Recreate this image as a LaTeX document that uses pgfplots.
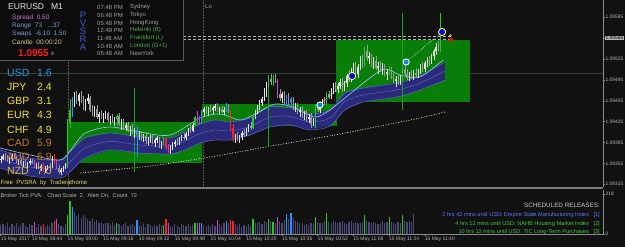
\documentclass[border=0pt]{standalone}
\usepackage{pgfplots}
\pgfplotsset{compat=1.18}
\usepackage{pgfplotstable}
\usepackage{graphicx}
\usepackage{fontspec}
\setmainfont{Liberation Sans}
\newcommand{\fs}[1]{\fontsize{#1}{#1}\selectfont}

\definecolor{bg}{HTML}{111111}
\definecolor{panelbg}{HTML}{0C0C0C}
\definecolor{panelln}{HTML}{5A5A5A}
\definecolor{axgrey}{HTML}{8C8C8C}
\definecolor{labgrey}{HTML}{B4B4B4}
\definecolor{boxgreen}{HTML}{087E08}
\definecolor{bandblue}{HTML}{2A2A7A}
\definecolor{bandline}{HTML}{6262C4}
\definecolor{fastline}{HTML}{9CC2FF}
\definecolor{cbull}{HTML}{E4E4E4}
\definecolor{cbear}{HTML}{9A9A9A}
\definecolor{cgreen}{HTML}{22CC22}
\definecolor{cred}{HTML}{FF2222}
\definecolor{cblue}{HTML}{3090FF}
\definecolor{cmag}{HTML}{C048C8}
\definecolor{volgrey}{HTML}{4A4A78}
\definecolor{hlgreen}{HTML}{274A27}
\definecolor{vlgreen}{HTML}{14A514}
\definecolor{sepgrey}{HTML}{7A7A7A}
\definecolor{cur1}{HTML}{3A90EA}
\definecolor{cur2}{HTML}{F0E040}
\definecolor{cur3}{HTML}{C47A28}
\definecolor{cur4}{HTML}{E2B840}
\definecolor{spreadc}{HTML}{C878C8}
\definecolor{infob}{HTML}{7AA0D0}
\definecolor{candc}{HTML}{D8C890}
\definecolor{pvsra}{HTML}{4858D8}
\definecolor{sessg}{HTML}{A0A0A0}
\definecolor{sessgr}{HTML}{48B048}
\definecolor{relblue}{HTML}{5A78FF}
\definecolor{relgreen}{HTML}{40C840}
\definecolor{freey}{HTML}{E0D870}

% i = minutes after 08:44 ; prices in 1e-5 above 1.09000 ; k = PVSRA class ; v = tick volume
\pgfplotstableread{
i o h l c k v
-14 356 362 350 358 0 48
-13 358 366 355 362 0 55
-12 362 368 356 359 1 42
-11 359 364 352 354 1 60
-10 354 360 349 357 0 38
-9 357 365 354 363 0 52
-8 363 367 357 360 1 45
-7 360 363 350 352 1 58
-6 352 358 348 355 0 40
-5 355 359 346 349 1 50
-4 349 354 344 351 0 62
-3 351 356 345 347 1 44
-2 347 352 342 350 0 36
-1 350 357 347 354 0 55
0 354 358 349 351 1 48
1 351 355 343 345 5 67
2 345 350 340 348 0 40
3 348 352 341 343 1 52
4 343 349 338 346 0 46
5 346 350 336 338 3 55
6 338 345 334 342 0 38
7 342 348 339 346 0 50
8 346 351 341 344 1 44
9 344 362 343 360 0 58
10 360 365 349 351 3 72
11 351 355 340 343 5 80
12 343 348 333 336 1 52
13 336 342 330 339 0 46
14 339 346 335 344 0 40
15 344 350 340 347 0 55
16 347 425 342 418 2 103
17 418 458 410 440 2 181
18 440 462 428 452 4 149
19 452 470 445 462 0 120
20 462 472 450 455 1 96
21 455 468 447 465 0 110
22 465 471 452 456 1 88
23 456 463 440 444 1 104
24 444 458 438 454 0 92
25 454 466 450 460 0 80
26 460 463 436 440 1 70
27 440 448 430 437 1 85
28 437 446 428 442 0 66
29 442 448 425 428 1 74
30 428 436 418 432 0 60
31 432 440 424 427 1 68
32 427 434 418 430 0 55
33 430 438 425 434 0 62
34 434 437 419 422 1 58
35 422 430 415 426 0 50
36 426 432 417 420 1 64
37 420 428 412 424 0 48
38 424 432 413 430 2 62
39 430 434 413 416 1 55
40 416 424 406 421 0 46
41 421 424 406 409 1 52
42 409 418 404 414 0 60
43 414 420 402 405 1 44
44 405 413 396 410 0 50
45 410 416 400 403 1 56
46 403 410 392 406 0 42
47 406 412 360 398 4 76
48 398 405 390 400 0 50
49 400 404 388 392 1 45
50 392 400 386 396 0 58
51 396 402 383 387 1 40
52 387 395 380 391 0 52
53 391 398 385 394 0 47
54 394 399 382 385 1 36
55 385 392 378 389 0 50
56 389 396 384 392 0 42
57 392 394 376 380 1 55
58 380 388 374 384 0 44
59 384 395 380 392 2 49
60 392 393 372 375 3 80
61 375 382 368 371 5 62
62 371 380 366 377 0 46
63 377 386 372 383 0 38
64 383 390 378 386 0 52
65 386 392 380 383 1 44
66 383 394 381 391 0 40
67 391 398 387 395 0 56
68 395 401 389 392 1 48
69 392 403 390 400 0 42
70 400 410 396 407 0 53
71 407 414 401 404 1 45
72 404 418 402 415 0 50
73 415 430 412 427 2 60
74 427 438 418 421 5 58
75 421 430 414 418 5 60
76 418 440 416 436 4 62
77 436 445 430 441 0 48
78 441 446 433 436 1 44
79 436 444 430 442 0 50
80 442 448 436 439 1 40
81 439 446 432 443 0 55
82 443 450 438 446 0 46
83 446 452 436 438 5 76
84 438 445 432 441 0 52
85 441 447 434 436 1 42
86 436 444 431 440 0 58
87 440 452 437 448 4 71
88 448 450 434 437 1 60
89 437 440 405 410 3 76
90 410 416 386 392 3 71
91 392 400 385 397 0 55
92 397 402 388 391 1 44
93 391 398 384 395 0 52
94 395 404 390 401 0 40
95 401 408 395 398 1 48
96 398 410 396 407 0 42
97 407 416 402 413 0 56
98 413 420 406 410 1 46
99 410 432 408 428 2 80
100 428 440 424 436 0 62
101 436 448 432 444 0 58
102 444 456 440 452 0 66
103 452 462 446 458 0 55
104 458 476 454 470 0 70
105 470 486 462 480 0 64
106 480 498 476 492 2 80
107 492 500 482 486 1 72
108 486 498 480 494 2 67
109 494 500 484 488 1 60
110 488 492 460 466 5 92
111 466 474 455 460 1 70
112 460 470 452 466 0 62
113 466 472 450 454 1 78
114 454 464 446 460 4 109
115 460 468 448 452 1 84
116 452 462 444 458 4 116
117 458 462 440 445 1 88
118 445 452 436 448 0 72
119 448 452 432 436 1 66
120 436 444 428 440 0 58
121 440 446 426 430 1 62
122 430 438 422 434 0 50
123 434 440 420 424 1 56
124 424 432 418 428 0 48
125 428 434 410 416 1 60
126 416 426 412 422 0 54
127 422 450 410 444 2 92
128 444 452 436 440 1 66
129 440 452 434 448 0 58
130 448 458 444 454 0 62
131 454 462 448 450 1 70
132 450 470 448 466 2 114
133 466 472 458 462 1 68
134 462 476 458 472 0 60
135 472 484 466 480 0 72
136 480 486 470 474 1 64
137 474 484 468 480 0 58
138 480 492 474 486 0 66
139 486 494 470 476 1 70
140 476 488 472 484 0 62
141 484 500 478 496 0 56
142 496 506 486 490 1 64
143 490 510 486 504 0 70
144 504 518 498 512 0 60
145 512 520 496 500 1 66
146 500 516 494 512 0 58
147 512 530 506 524 0 62
148 524 532 510 516 1 68
149 516 545 512 538 2 103
150 538 548 522 526 1 72
151 526 536 516 530 0 64
152 530 534 512 516 1 58
153 516 528 508 522 0 66
154 522 530 506 510 1 60
155 510 520 500 514 0 54
156 514 522 504 508 1 62
157 508 518 498 512 0 70
158 512 516 496 500 1 58
159 500 508 490 504 0 64
160 504 514 498 510 2 94
161 510 512 492 495 1 68
162 495 502 484 488 1 60
163 488 496 478 492 0 56
164 492 500 482 486 1 66
165 486 498 482 494 0 62
166 494 512 490 508 2 103
167 508 516 496 500 1 70
168 500 508 490 494 1 64
169 494 504 488 500 0 72
170 500 506 492 496 1 66
171 496 506 490 502 0 109
172 502 510 494 498 1 0
173 498 508 494 506 0 0
174 506 516 500 512 0 0
175 512 520 504 508 1 0
176 508 522 504 518 0 0
177 518 528 512 524 0 0
178 524 530 514 518 1 0
179 518 534 516 530 0 0
180 530 542 524 538 0 0
181 538 552 532 546 0 0
182 546 556 538 542 1 0
183 542 602 536 560 2 0
}\candles

\newcommand{\candleset}[2]{%
 \addplot[draw=none, mark=none, forget plot,
   restrict expr to domain={\thisrow{k}}{#1},
   error bars/.cd, y dir=plus, y explicit, error mark=none,
   error bar style={draw=#2, line width=0.45pt, solid}]
   table[x=i, y=l, y error expr=\thisrow{h}-\thisrow{l}]{\candles};
 \addplot[draw=none, mark=none, forget plot,
   restrict expr to domain={\thisrow{k}}{#1},
   error bars/.cd, y dir=plus, y explicit, error mark=none,
   error bar style={draw=#2, line width=1.15pt, solid}]
   table[x=i, y expr={min(\thisrow{o},\thisrow{c})}, y error expr={max(abs(\thisrow{c}-\thisrow{o}),1.2)}]{\candles};
}
\newcommand{\volset}[2]{%
 \addplot[ycomb, draw=#2, line width=1.2pt, forget plot,
   restrict expr to domain={\thisrow{k}}{#1}]
   table[x=i, y=v]{\candles};
}

\begin{document}
\begin{tikzpicture}[x=1pt,y=1pt]
\fill[bg] (0,0) rectangle (625,247);

% ---------------- main price panel ----------------
\begin{axis}[at={(0pt,60pt)}, anchor=south west, scale only axis,
  width=603pt, height=187pt,
  xmin=-14.34, xmax=255.8, ymin=310.4, ymax=624,
  axis x line=none, axis y line*=right,
  y axis line style={draw=axgrey, line width=0.6pt, -},
  ytick={315,350,385,420,455,490,525,595},
  yticklabels={1.09315,1.09350,1.09385,1.09420,1.09455,1.09490,1.09525,1.09595},
  extra y ticks={560}, extra y tick labels={1.09560},
  extra y tick style={yticklabel style={fill=labgrey, text=black}},
  tick align=outside, major tick length=2pt,
  ytick style={draw=axgrey, line width=0.5pt},
  yticklabel style={font=\fs{4.9}, text=labgrey, inner sep=0.4pt, xshift=0pt},
  xtick=\empty]
\addplot[draw=gray!70!black, densely dotted, line width=0.5pt, forget plot] coordinates {(16.1,310.4) (16.1,624)};
\addplot[draw=gray!70!black, densely dotted, line width=0.5pt, forget plot] coordinates {(76.6,310.4) (76.6,624)};
\addplot[draw=hlgreen, line width=0.6pt, forget plot] coordinates {(-14.34,501.6) (255.8,501.6)};
\addplot[fill=boxgreen, draw=none, forget plot] coordinates {(16.1,350.6) (76.2,350.6) (76.2,419.4) (16.1,419.4)} --cycle;
\addplot[fill=boxgreen, draw=none, forget plot] coordinates {(76.2,412.7) (136.6,412.7) (136.6,449.6) (76.2,449.6)} --cycle;
\addplot[fill=boxgreen, draw=none, forget plot] coordinates {(136.2,452.9) (196.2,452.9) (196.2,556.9) (136.2,556.9)} --cycle;
\addplot[fill=bandblue, draw=none, forget plot] coordinates {
(-14.3,372.5)(-0.9,359.0)(12.5,355.7)(17.0,369.1)(23.7,392.6)(34.9,401.0)(48.4,394.2)(61.8,392.6)(68.5,402.6)(75.3,416.1)(82,422.8)(88.7,419.4)(97.7,426.1)(106.6,444.6)(115.6,442.9)(124.6,432.8)(133.5,439.5)(140.2,468.0)(148.3,476.4)(163.5,484.8)(173.8,496.5)(185.0,520.0)
(185.0,489.8)(173.8,473.1)(163.5,461.3)(148.3,452.9)(140.2,439.5)(133.5,412.7)(124.6,406.0)(115.6,414.4)(106.6,411.0)(97.7,397.6)(88.7,389.2)(82,389.2)(75.3,384.2)(68.5,372.5)(61.8,365.7)(48.4,367.4)(34.9,372.5)(23.7,359.0)(17.0,335.6)(12.5,325.5)(-0.9,328.8)(-14.3,342.3)} --cycle;
\addplot[draw=bandline, line width=0.5pt, smooth, forget plot] coordinates {
(-14.3,372.5)(-0.9,359.0)(12.5,355.7)(17.0,369.1)(23.7,392.6)(34.9,401.0)(48.4,394.2)(61.8,392.6)(68.5,402.6)(75.3,416.1)(82,422.8)(88.7,419.4)(97.7,426.1)(106.6,444.6)(115.6,442.9)(124.6,432.8)(133.5,439.5)(140.2,468.0)(148.3,476.4)(163.5,484.8)(173.8,496.5)(185.0,520.0)};
\addplot[draw=bandline, line width=0.5pt, smooth, forget plot] coordinates {
(-14.3,342.3)(-0.9,328.8)(12.5,325.5)(17.0,335.6)(23.7,359.0)(34.9,372.5)(48.4,367.4)(61.8,365.7)(68.5,372.5)(75.3,384.2)(82,389.2)(88.7,389.2)(97.7,397.6)(106.6,411.0)(115.6,414.4)(124.6,406.0)(133.5,412.7)(140.2,439.5)(148.3,452.9)(163.5,461.3)(173.8,473.1)(185.0,489.8)};
\addplot[draw=bandline, line width=0.45pt, smooth, forget plot] coordinates {
(-14.3,357.4)(-0.9,343.9)(12.5,340.6)(17.0,352.4)(23.7,375.8)(34.9,386.8)(48.4,380.8)(61.8,379.2)(68.5,387.6)(75.3,400.2)(82,406.0)(88.7,404.3)(97.7,411.9)(106.6,427.8)(115.6,428.7)(124.6,419.4)(133.5,426.1)(140.2,453.8)(148.3,464.7)(163.5,473.1)(173.8,484.8)(185.0,504.9)};
\addplot[draw=fastline, line width=0.6pt, smooth, forget plot] coordinates {
(-14.3,375.8)(-0.9,364.1)(12.5,355.7)(17.0,370.8)(23.7,400.3)(34.9,411.0)(48.4,402.6)(61.8,397.6)(75.3,426.1)(84.2,432.8)(93.2,422.8)(99.9,432.8)(108.9,449.6)(117.8,442.9)(126.8,427.8)(133.5,439.5)(140.2,459.7)(156.8,506.6)(164.9,498.2)(173.8,494.9)(184.1,523.4)};
\addplot[draw=white!80!yellow, line width=0.6pt, dash pattern=on 1pt off 1.6pt, smooth, forget plot] coordinates {
(21.5,333.9)(52.9,345.6)(79.7,360.7)(102.2,375.8)(120.1,387.5)(138.0,399.3)(155.9,412.7)(173.8,426.1)(185.0,436.2)};
\addplot[draw=vlgreen, line width=0.9pt, forget plot] coordinates {(46,476.4) (46,335.6)};
\addplot[draw=vlgreen, line width=0.9pt, forget plot] coordinates {(106,498.2) (106,377.5)};
\addplot[draw=vlgreen, line width=0.9pt, forget plot] coordinates {(166,602.2) (166,439.5)};
\addplot[draw=labgrey, densely dashed, line width=0.4pt, forget plot] coordinates {(67.7,563.6) (187.3,563.6)};
\addplot[draw=labgrey, densely dashed, line width=0.4pt, forget plot] coordinates {(67.7,557.8) (187.3,557.8)};
\candleset{-0.5:0.5}{cbull}
\candleset{0.5:1.5}{cbear}
\candleset{1.5:2.5}{cgreen}
\candleset{2.5:3.5}{cred}
\candleset{3.5:4.5}{cblue}
\candleset{4.5:5.5}{cmag}
\addplot[draw=white, densely dotted, line width=0.5pt, forget plot] coordinates {(129,448) (143.4,496.5)};
\addplot[draw=white, densely dotted, line width=0.5pt, forget plot] coordinates {(167.6,520) (183.7,570.3)};
\addplot[only marks, mark=*, mark size=3.1pt, mark options={fill=cyan!70!blue, draw=white, line width=0.9pt}, forget plot] coordinates {(129,448) (167.6,520)};
\addplot[only marks, mark=*, mark size=3.6pt, mark options={fill=blue!90!black, draw=yellow!60!white, line width=0.9pt}, forget plot] coordinates {(143.4,496.5) (183.7,570.3)};
\addplot[only marks, mark=o, mark size=1.1pt, mark options={draw=white, line width=0.4pt}, forget plot] coordinates {(187.4,564.2)};
\addplot[only marks, mark=square*, mark size=1.1pt, mark options={fill=red, draw=red}, forget plot] coordinates {(187.6,558.4)};
\end{axis}

\fill[sepgrey] (0,58) rectangle (603,60.3);

% ---------------- volume panel ----------------
\begin{axis}[at={(0pt,13pt)}, anchor=south west, scale only axis,
  width=603pt, height=44pt,
  xmin=-14.34, xmax=255.8, ymin=0, ymax=240,
  axis x line*=bottom, axis y line*=right,
  axis line style={draw=axgrey, line width=0.6pt, -},
  ytick={0,218}, yticklabels={0,218},
  yticklabel style={font=\fs{4.9}, text=labgrey, inner sep=0.4pt, xshift=0pt},
  xtick={0,16,32,48,64,80,96,112,128,144,160,176},
  xticklabels={15 May 08:44,15 May 09:00,15 May 09:16,15 May 09:32,15 May 09:48,15 May 10:04,15 May 10:20,15 May 10:36,15 May 10:52,15 May 11:08,15 May 11:24,15 May 11:40},
  extra x ticks={-14.3}, extra x tick labels={15 May 2017},
  extra x tick style={xticklabel style={xshift=0.9pt}},
  xticklabel style={anchor=north west, font=\fs{5}, text=labgrey, inner sep=0.6pt, xshift=-0.8pt},
  tick align=outside, major tick length=2pt,
  tick style={draw=axgrey, line width=0.5pt}]
\volset{-0.5:1.5}{volgrey}
\volset{1.5:2.5}{cgreen}
\volset{2.5:3.5}{cred}
\volset{3.5:4.5}{cblue}
\volset{4.5:5.5}{cmag}
\end{axis}

% ---------------- overlays ----------------
\draw[draw=panelln, fill=panelbg, line width=0.6pt] (-1,187) rectangle (183,249);
\node[anchor=west, inner sep=0, text=white!90!black, font=\fs{8.5}] at (8,240) {EURUSD\ \ \ M1};
\node[anchor=west, inner sep=0, text=spreadc, font=\fs{6.5}] at (12,229) {Spread\ \ 0.50};
\node[anchor=west, inner sep=0, text=infob, font=\fs{6.5}] at (12,221) {Range\ \ 73\ \ \ ...37};
\node[anchor=west, inner sep=0, text=infob, font=\fs{6.5}] at (12,213) {Swaps\ \ -6.10\ \ 1.50};
\node[anchor=west, inner sep=0, text=candc, font=\fs{6.5}] at (12,205) {Candle\ \ 00:00:20};
\node[anchor=west, inner sep=0, text=red!90!white, font=\bfseries\fs{10}] at (18,194) {1.0955};
\node[anchor=west, inner sep=0, text=labgrey, font=\fs{5}] at (51,193) {8};
\foreach \ch/\yy in {P/232,V/224,S/216,R/208,A/200}
  \node[inner sep=0, text=pvsra, font=\fs{9.5}] at (83,\yy) {\ch};
\foreach \tt/\nm/\yy/\cc in {07:48 PM/Sydney/240/sessg, 06:48 PM/Tokyo/232/sessg, 05:48 PM/HongKong/224/sessg, 12:48 PM/Helsinki (B)/217/sessgr, 11:48 AM/Frankfurt (L)/209/sessgr, 10:48 AM/London (G+1)/201/sessgr, 05:48 AM/NewYork/194/sessg}{
  \node[anchor=west, inner sep=0, text=sessg, font=\fs{6}] at (97,\yy) {\tt};
  \node[anchor=west, inner sep=0, text=\cc, font=\fs{6}] at (130,\yy) {\nm};
}
\node[anchor=west, inner sep=0, text=sessg, font=\fs{6}] at (205,241) {Lo};
\foreach \cu/\va/\yy/\cc in {USD/1.6/174/cur1, JPY/2.4/160/cur2, GBP/3.1/146/cur2, EUR/4.3/132/cur2, CHF/4.9/117/cur2, CAD/5.9/104/cur3, AUD/6.9/90/cur3, NZD/7.0/76/cur4}{
  \node[anchor=west, inner sep=0, text=\cc, font=\fs{10.5}] at (7,\yy) {\cu};
  \node[anchor=west, inner sep=0, text=\cc, font=\fs{10.5}] at (37,\yy) {\va};
}
\node[anchor=west, inner sep=0, text=freey, font=\fs{6}] at (0.5,64) {Free\ \ PVSRA\ \ by\ \ Traderathome};
\node[anchor=west, inner sep=0, text=labgrey, font=\fs{5.6}] at (0.5,51) {Broker Tick PVA:\ \ \ Chart Scale\ \ 2,\ \ Alert On,\ \ Count\ \ 72};
\node[anchor=east, inner sep=0, text=white!80!black, font=\fs{6.3}] at (600,42) {SCHEDULED RELEASES:};
\node[anchor=east, inner sep=0, text=relblue, font=\fs{5.6}] at (600,32) {2 hrs 42 mins until USD: Empire State Manufacturing Index\ \ \ [1]};
\node[anchor=east, inner sep=0, text=relgreen, font=\fs{5.6}] at (600,23) {4 hrs 12 mins until USD: NAHB Housing Market Index\ \ \ [2]};
\node[anchor=east, inner sep=0, text=relgreen, font=\fs{5.6}] at (600,15) {10 hrs 12 mins until USD: TIC Long-Term Purchases\ \ \ [3]};
\pgfresetboundingbox
\useasboundingbox (0,0) rectangle (625,247);
\end{tikzpicture}
\end{document}
